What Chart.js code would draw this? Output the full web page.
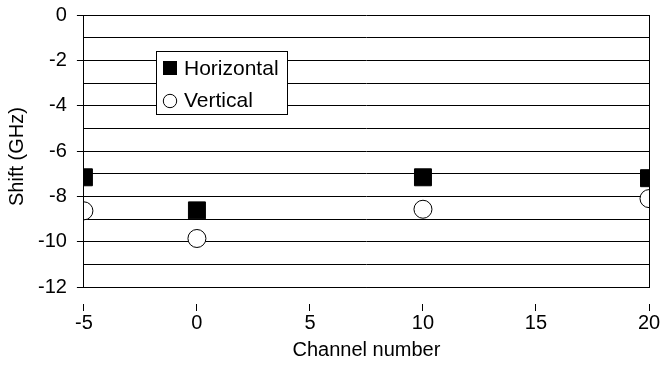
<!DOCTYPE html>
<html>
<head>
<meta charset="utf-8">
<script src="https://cdn.jsdelivr.net/npm/chart.js@4"></script>
<style>
  html, body { margin: 0; padding: 0; background: #fff; }
  #wrap { width: 662px; height: 365px; }
</style>
</head>
<body>
<div id="wrap"><canvas id="chart"></canvas></div>
<script>
const channels = [-5, 0, 10, 20];
const horizontal = [-7.16, -8.62, -7.16, -7.2];
const vertical = [-8.64, -9.86, -8.57, -8.1];
const seriesNames = ['Horizontal', 'Vertical'];

const family = 'Liberation Sans, Arial, sans-serif';
const font = { family: family, size: 20 };

// legend box drawn inside the plot, covering the grid lines
const boxLegend = {
  id: 'boxLegend',
  beforeDatasetsDraw(chart) {
    const ctx = chart.ctx;
    const a = chart.chartArea;
    const x = Math.round(a.left + 72), y = Math.round(a.top + 36), w = 131, h = 63;
    ctx.save();
    ctx.fillStyle = '#fff';
    ctx.fillRect(x, y, w, h);
    ctx.strokeStyle = '#000';
    ctx.lineWidth = 1;
    ctx.strokeRect(x + 0.5, y + 0.5, w, h);
    ctx.font = '21px ' + family;
    ctx.fillStyle = '#000';
    ctx.textBaseline = 'middle';
    // square marker
    ctx.fillRect(x + 7, y + 10, 14, 14);
    ctx.fillText(seriesNames[0], x + 28, y + 18);
    // circle marker
    ctx.beginPath();
    ctx.arc(x + 14, y + 50, 6.7, 0, Math.PI * 2);
    ctx.fillStyle = '#fff';
    ctx.fill();
    ctx.stroke();
    ctx.fillStyle = '#000';
    ctx.fillText(seriesNames[1], x + 28, y + 50);
    ctx.restore();
  }
};

new Chart(document.getElementById('chart'), {
  type: 'scatter',
  plugins: [boxLegend],
  data: {
    datasets: [{
      label: seriesNames[0],
      data: channels.map((c, i) => ({ x: c, y: horizontal[i] })),
      pointStyle: 'rect',
      pointRadius: 12,
      backgroundColor: '#000',
      borderColor: '#000',
      borderWidth: 1,
    },
    {
      label: seriesNames[1],
      data: channels.map((c, i) => ({ x: c, y: vertical[i] })),
      pointStyle: 'circle',
      pointRadius: 9,
      backgroundColor: '#fff',
      borderColor: '#000',
      borderWidth: 1,
    }]
  },
  options: {
    responsive: true,
    maintainAspectRatio: false,
    animation: false,
    layout: {
      padding: { top: 15, right: 12, left: 5, bottom: 2 }
    },
    plugins: {
      legend: { display: false },
      tooltip: { enabled: false },
    },
    scales: {
      x: {
        type: 'linear',
        min: -5,
        max: 20,
        ticks: {
          stepSize: 5,
          color: '#000',
          font: font,
          padding: 0,
          maxRotation: 0,
        },
        grid: {
          color: (ctx) => ctx.tick && ctx.tick.value === 20 ? '#000' : 'rgba(0,0,0,0)',
          tickColor: '#000',
          tickLength: 24,
          // only the 8px next to the axis is drawn, the rest is spacing
          tickBorderDash: [8, 16],
          tickBorderDashOffset: 8,
          lineWidth: 1,
        },
        border: { display: true, color: '#000', width: 1 },
        title: {
          display: true,
          text: 'Channel number',
          color: '#000',
          font: font,
          padding: { top: 3.5, bottom: 0.5 },
        },
      },
      y: {
        min: -12,
        max: 0,
        ticks: {
          stepSize: 1,
          color: '#000',
          font: font,
          padding: 0,
          autoSkip: false,
          callback: (v) => v % 2 === 0 ? String(v) : '',
        },
        grid: {
          color: '#000',
          tickColor: (ctx) => ctx.tick && ctx.tick.value % 2 === 0 ? '#000' : 'rgba(0,0,0,0)',
          tickLength: 17,
          tickBorderDash: [7, 10],
          tickBorderDashOffset: 7,
          lineWidth: 1,
        },
        border: { display: true, color: '#000', width: 1 },
        title: {
          display: true,
          text: 'Shift (GHz)  ',
          color: '#000',
          font: font,
          padding: { top: 0, bottom: 9 },
        },
      },
    }
  },
});
</script>
</body>
</html>
